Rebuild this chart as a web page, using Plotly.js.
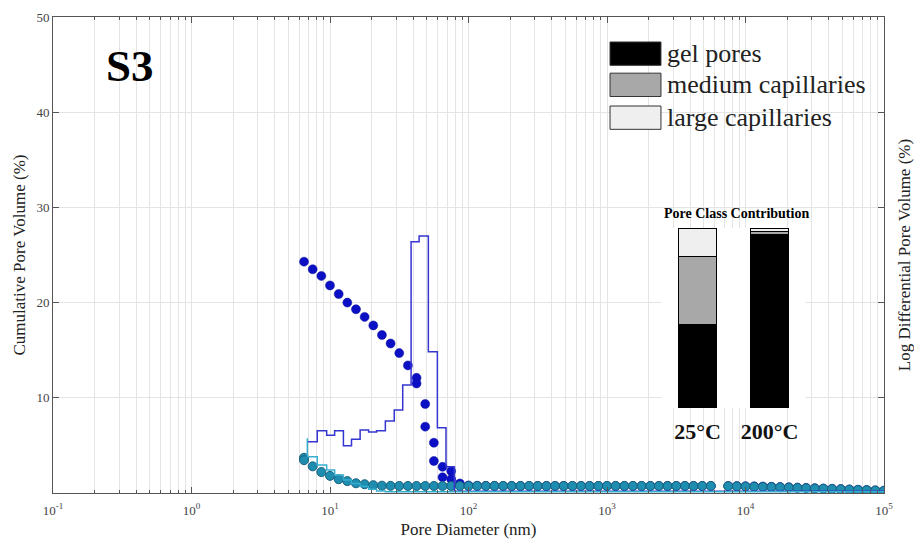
<!DOCTYPE html>
<html>
<head>
<meta charset="utf-8">
<script src="https://cdn.plot.ly/plotly-3.0.1.min.js"></script>
<style>
  html, body { margin: 0; padding: 0; background: #fff; }
  #chart { width: 914px; height: 543px; }
</style>
</head>
<body>
<div id="chart"></div>
<script>
// pore diameters (nm) of the measured points, 16 per decade
var diam = [6.494, 7.499, 8.660, 10.00, 11.55, 13.34, 15.40, 17.78, 20.54, 23.71,
            27.38, 31.62, 36.52, 42.17, 42.17, 48.70, 48.70, 56.23, 56.23, 64.94,
            64.94, 74.99, 74.99, 86.60, 100.0, 115.5, 133.4, 154.0, 177.8, 205.4,
            237.1, 273.8, 316.2, 365.2, 421.7, 487.0, 562.3, 649.4, 749.9, 866.0,
            1000, 1155, 1334, 1540, 1778, 2054, 2371, 2738, 3162, 3652,
            4217, 4870, 5623, 7499, 8660, 10000, 11550, 13340, 15400, 17780,
            20540, 23710, 27380, 31620, 36520, 42170, 48700, 56230, 64940, 74990,
            86600, 100000];
// cumulative pore volume, 25 C (dark blue dots)
var cum25 = [24.3, 23.5, 22.8, 21.8, 20.9, 20.0, 19.3, 18.5, 17.6, 16.6,
             15.7, 14.7, 13.4, 12.1, 11.5, 9.35, 6.97, 5.28, 3.36, 2.75,
             1.65, 2.3, 1.44, 1.0, 0.8, 0.76, 0.75, 0.75, 0.74, 0.74,
             0.74, 0.74, 0.74, 0.74, 0.74, 0.74, 0.74, 0.74, 0.74, 0.74,
             0.74, 0.74, 0.74, 0.74, 0.74, 0.74, 0.74, 0.74, 0.74, 0.74,
             0.74, 0.74, 0.74, 0.74, 0.73, 0.72, 0.70, 0.68, 0.66, 0.63,
             0.60, 0.57, 0.54, 0.51, 0.47, 0.44, 0.41, 0.37, 0.34, 0.31,
             0.27, 0.24];
// pore diameters of the 200 C points
var diam200 = [6.494, 6.494, 7.499, 8.660, 10.00, 11.55, 13.34, 15.40, 17.78, 20.54,
               23.71, 27.38, 31.62, 36.52, 42.17, 48.70, 56.23, 64.94, 74.99, 86.60,
               100.0, 115.5, 133.4, 154.0, 177.8, 205.4, 237.1, 273.8, 316.2, 365.2,
               421.7, 487.0, 562.3, 649.4, 749.9, 866.0, 1000, 1155, 1334, 1540,
               1778, 2054, 2371, 2738, 3162, 3652, 4217, 4870, 5623, 7499,
               8660, 10000, 11550, 13340, 15400, 17780, 20540, 23710, 27380, 31620,
               36520, 42170, 48700, 56230, 64940, 74990, 86600, 100000];
// cumulative pore volume, 200 C (teal dots)
var cum200 = [3.7, 3.45, 2.8, 2.2, 1.8, 1.45, 1.25, 1.02, 0.92, 0.82,
              0.77, 0.75, 0.74, 0.74, 0.74, 0.74, 0.74, 0.74, 0.74, 0.74,
              0.74, 0.74, 0.74, 0.74, 0.74, 0.74, 0.74, 0.74, 0.74, 0.74,
              0.74, 0.74, 0.74, 0.74, 0.74, 0.74, 0.74, 0.74, 0.74, 0.74,
              0.74, 0.74, 0.74, 0.74, 0.74, 0.74, 0.74, 0.74, 0.74, 0.72,
              0.70, 0.68, 0.66, 0.64, 0.62, 0.60, 0.57, 0.54, 0.51, 0.48,
              0.45, 0.42, 0.39, 0.36, 0.33, 0.30, 0.27, 0.24];

// bin edges and levels of the log differential curves
var edges25 = [6.86, 8.09, 9.46, 10.8, 12.5, 14.3, 16.5, 19.0, 21.7, 25.1,
               29.1, 33.5, 38.5, 44.0, 51.3, 59.6, 68.8, 79.1, 100000];
var diff25 = [5.39, 5.39, 6.55, 6.06, 6.55, 4.97, 5.64, 6.62, 6.41, 6.55,
              7.56, 8.72, 11.34, 26.4, 27.0, 14.84, 6.86, 2.77, 0.18];
var edges200 = [6.86, 8.09, 9.46, 10.8, 12.5, 14.3, 16.5, 19.0, 21.7, 25.1, 100000];
var diff200 = [5.74, 3.8, 2.94, 2.42, 1.9, 1.37, 1.0, 0.67, 0.39, 0.2, 0.12];

// inset: pore class contribution (%)
var temps = ['<b>25°C</b>', '<b>200°C</b>'];
var classes = ['gel pores', 'medium capillaries', 'large capillaries'];
var classColors = ['#000000', '#a8a8a8', '#efefef'];
var gelPores = [46.3, 96.2];
var mediumCap = [38.0, 1.9];
var largeCap = [15.7, 1.9];

var xTicks = [0.1, 1, 10, 100, 1000, 10000, 100000];
var xTickText = ['10<sup>-1</sup>', '10<sup>0</sup>', '10<sup>1</sup>', '10<sup>2</sup>',
                 '10<sup>3</sup>', '10<sup>4</sup>', '10<sup>5</sup>'];
var yTicks = [10, 20, 30, 40, 50];

// minor ticks 2..9 inside every decade
var minorTicks = [];
xTicks.slice(0, -1).forEach(function(dec) {
  for (var m = 2; m <= 9; m++) minorTicks.push(dec * m);
});

var serif = 'Liberation Serif';

var traces = [
  {
    x: diam, y: cum25, type: 'scatter', mode: 'markers',
    marker: {size: 9, color: '#0b10c4', line: {color: '#0a0ea0', width: 0.5}},
    showlegend: false
  },
  {
    x: diam200, y: cum200, type: 'scatter', mode: 'markers',
    marker: {size: 9, color: '#1f8db0', line: {color: '#17607e', width: 1}},
    showlegend: false
  },
  {
    x: edges25, y: diff25, type: 'scatter', mode: 'lines', yaxis: 'y3',
    line: {shape: 'vh', color: '#3535d2', width: 1.5}, showlegend: false
  },
  {
    x: edges200, y: diff200, type: 'scatter', mode: 'lines', yaxis: 'y3',
    line: {shape: 'vh', color: '#36aed0', width: 1.5}, showlegend: false
  }
];

var stacks = [gelPores, mediumCap, largeCap];
stacks.forEach(function(vals, i) {
  traces.push({
    x: [0, 1], y: vals, type: 'bar', xaxis: 'x2', yaxis: 'y2',
    width: 0.54, name: classes[i],
    marker: {color: classColors[i], line: {color: '#000', width: 1}},
    showlegend: false
  });
});

// legend drawn as boxes + text so the swatches are large like the original
var shapes = [];
var annotations = [];
var legTop = [0.9475, 0.882, 0.813];
classes.forEach(function(name, i) {
  shapes.push({
    type: 'rect', xref: 'paper', yref: 'paper',
    x0: 0.6703, x1: 0.7316, y0: legTop[i] - 0.049, y1: legTop[i],
    fillcolor: classColors[i], line: {color: '#333', width: 1}
  });
  annotations.push({
    xref: 'paper', yref: 'paper', x: 0.7366, y: legTop[i] - 0.0245,
    xanchor: 'left', yanchor: 'middle', showarrow: false, text: name,
    font: {family: serif, size: 26, color: '#222'}
  });
});
annotations.push({
  xref: 'paper', yref: 'paper', x: 0.0927, y: 0.897,
  xanchor: 'center', yanchor: 'middle', showarrow: false,
  text: '<b>S3</b>', font: {family: serif, size: 45, color: '#000'}
});
annotations.push({
  xref: 'paper', yref: 'paper', x: 0.823, y: 0.588,
  xanchor: 'center', yanchor: 'middle', showarrow: false,
  text: '<b>Pore Class Contribution</b>', font: {family: serif, size: 14, color: '#000'}
});

var gridCol = '#e4e4e4';
var layout = {
  width: 914, height: 543,
  margin: {l: 53, r: 30, t: 17, b: 50},
  paper_bgcolor: '#fff', plot_bgcolor: '#fff',
  showlegend: false,
  font: {family: serif, color: '#333'},
  xaxis: {
    type: 'log', range: [-1, 5],
    tickmode: 'array', tickvals: xTicks, ticktext: xTickText,
    tickfont: {family: serif, size: 13, color: '#444'}, ticklabelstandoff: 5,
    ticks: 'inside', ticklen: 6, tickcolor: '#555',
    showgrid: true, gridcolor: gridCol,
    minor: {tickmode: 'array', tickvals: minorTicks, showgrid: true, gridcolor: gridCol,
            ticks: 'inside', ticklen: 3, tickcolor: '#555'},
    showline: true, linecolor: '#555', mirror: 'ticks',
    zeroline: false,
    title: {text: 'Pore Diameter (nm)', font: {family: serif, size: 17, color: '#222'}, standoff: 6}
  },
  yaxis: {
    range: [0, 50], tickvals: yTicks,
    tickfont: {family: serif, size: 13, color: '#444'},
    ticks: 'inside', ticklen: 6, tickcolor: '#555',
    showgrid: true, gridcolor: gridCol,
    showline: true, linecolor: '#555', zeroline: false,
    title: {text: 'Cumulative Pore Volume (%)', font: {family: serif, size: 17, color: '#222'}, standoff: 6}
  },
  yaxis3: {
    overlaying: 'y', side: 'right', range: [0, 50], tickvals: yTicks,
    showticklabels: false, ticks: 'inside', ticklen: 6, tickcolor: '#555',
    showgrid: false, showline: true, linecolor: '#555', zeroline: false,
    title: {text: 'Log Differential Pore Volume (%)', font: {family: serif, size: 17, color: '#222'}, standoff: 14}
  },
  xaxis2: {
    domain: [0.7323, 0.9055], anchor: 'y2', range: [-0.5, 1.5],
    tickvals: [0, 1], ticktext: temps, ticks: '', ticklabelstandoff: 8,
    tickfont: {family: serif, size: 22, color: '#111'},
    showgrid: false, showline: false, zeroline: false, fixedrange: true
  },
  yaxis2: {
    domain: [0.1786, 0.5567], anchor: 'x2', range: [0, 100],
    visible: false, fixedrange: true
  },
  barmode: 'stack',
  shapes: shapes,
  annotations: annotations
};

Plotly.newPlot('chart', traces, layout, {displayModeBar: false, staticPlot: true});
</script>
</body>
</html>
